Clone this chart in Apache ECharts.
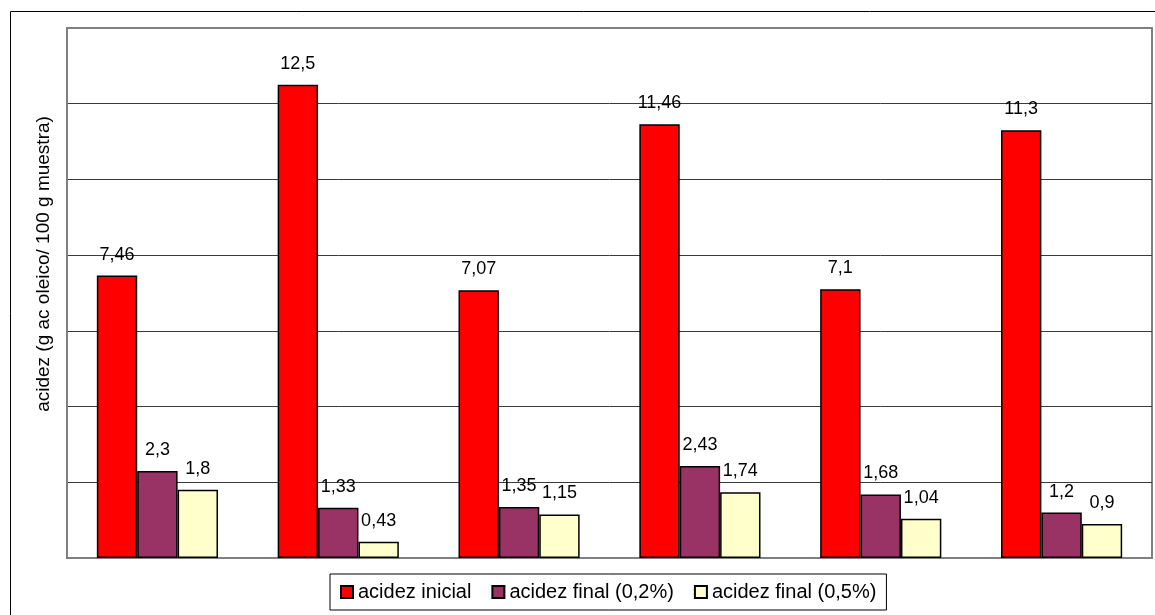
<!DOCTYPE html>
<html>
<head>
<meta charset="utf-8">
<script src="https://cdn.jsdelivr.net/npm/echarts@6/dist/echarts.min.js"></script>
<style>
  html, body { margin: 0; padding: 0; background: #ffffff; }
  #chart { width: 1155px; height: 615px; }
</style>
</head>
<body>
<div id="chart"></div>
<script>
// datos
var categories = ['1', '2', '3', '4', '5', '6'];
var seriesNames = ['acidez inicial', 'acidez final (0,2%)', 'acidez final (0,5%)'];
var acidezInicial = [7.46, 12.5, 7.07, 11.46, 7.1, 11.3];
var acidezFinal02 = [2.3, 1.33, 1.35, 2.43, 1.68, 1.2];
var acidezFinal05 = [1.8, 0.43, 1.15, 1.74, 1.04, 0.9];
var yTitle = 'acidez (g ac oleico/ 100 g muestra)';

var FONT = '"Liberation Sans", Arial, sans-serif';

function barSerie(name, data, color) {
  return {
    name: name,
    type: 'bar',
    data: data,
    barGap: '0%',
    barCategoryGap: '33%',
    itemStyle: { color: color, borderColor: '#000000', borderWidth: 1.5 },
    label: {
      show: true,
      position: 'top',
      distance: 12,
      color: '#000000',
      fontFamily: FONT,
      fontSize: 18,
      formatter: function (p) { return String(p.value).replace('.', ','); }
    }
  };
}

var chart = echarts.init(document.getElementById('chart'));
chart.setOption({
  animation: false,
  backgroundColor: '#ffffff',
  textStyle: { fontFamily: FONT },
  grid: {
    left: 67, top: 28, right: 3, bottom: 57,
    show: true, borderColor: '#808080', borderWidth: 2,
    backgroundColor: 'transparent'
  },
  legend: {
    left: 330, top: 574,
    data: seriesNames,
    itemWidth: 12, itemHeight: 12, itemGap: 20,
    padding: [8, 10],
    borderColor: '#000000', borderWidth: 1,
    icon: 'rect',
    textStyle: { color: '#000000', fontSize: 20, fontFamily: FONT }
  },
  xAxis: {
    type: 'category',
    data: categories,
    axisLine: { show: true, lineStyle: { color: '#808080', width: 2 } },
    axisTick: { show: false },
    axisLabel: { show: false }
  },
  yAxis: {
    type: 'value',
    min: 0, max: 14, interval: 2,
    axisLine: { show: true, lineStyle: { color: '#808080', width: 2 } },
    axisTick: { show: false },
    axisLabel: { show: false },
    splitLine: { show: true, showMaxLine: false, lineStyle: { color: '#3a3a3a', width: 1 } }
  },
  graphic: [
    {
      type: 'rect',
      shape: { x: 10.5, y: 11.5, width: 1300, height: 800 },
      style: { fill: 'none', stroke: '#000000', lineWidth: 1 },
      silent: true, z: -10
    },
    {
      type: 'text',
      x: 44, y: 264,
      rotation: Math.PI / 2,
      style: {
        text: yTitle,
        fontFamily: FONT, fontSize: 19, fill: '#000000',
        align: 'center', verticalAlign: 'middle'
      }
    }
  ],
  series: [
    barSerie(seriesNames[0], acidezInicial, '#ff0000'),
    barSerie(seriesNames[1], acidezFinal02, '#993366'),
    barSerie(seriesNames[2], acidezFinal05, '#ffffcc')
  ]
});
</script>
</body>
</html>
